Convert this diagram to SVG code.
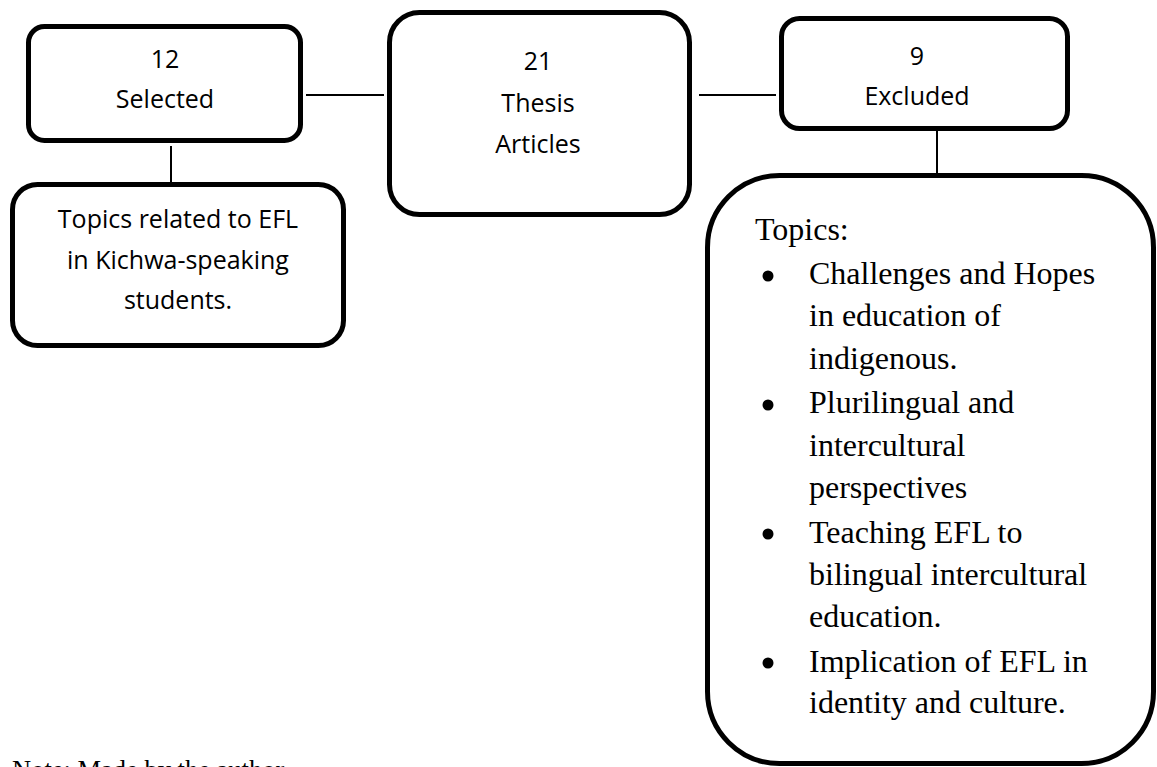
<svg xmlns="http://www.w3.org/2000/svg" width="1157" height="767" viewBox="0 0 1157 767">
<style>
.box{fill:#fff;stroke:#000;stroke-width:5}
.con line{stroke:#000;stroke-width:2}
.sans{font-family:"Open Sans","Liberation Sans",sans-serif;font-size:25px;fill:#000;text-anchor:middle}
.serif{font-family:"Liberation Serif","Times New Roman",serif;font-size:32px;fill:#000}
</style>
<rect width="1157" height="767" fill="#fff"/>
<g id="connectors" class="con">
<line x1="306" y1="95" x2="384" y2="95"/>
<line x1="699" y1="95" x2="776" y2="95"/>
<line x1="171" y1="146" x2="171" y2="184"/>
<line x1="937" y1="131" x2="937" y2="175"/>
</g>
<g id="selected">
<rect class="box" x="28.5" y="26.5" width="272" height="114" rx="16"/>
<text class="sans" x="165" y="68">12</text>
<text class="sans" x="165" y="108">Selected</text>
</g>
<g id="thesis">
<rect class="box" x="389.5" y="12.5" width="300" height="202" rx="30"/>
<text class="sans" x="538" y="70">21</text>
<text class="sans" x="538" y="112">Thesis</text>
<text class="sans" x="538" y="153">Articles</text>
</g>
<g id="excluded">
<rect class="box" x="781.5" y="18.5" width="286" height="110" rx="18"/>
<text class="sans" x="917" y="65">9</text>
<text class="sans" x="917" y="105">Excluded</text>
</g>
<g id="selected-topics">
<rect class="box" x="12.5" y="184.5" width="331" height="161" rx="25"/>
<text class="sans" x="178" y="228">Topics related to EFL</text>
<text class="sans" x="178" y="269">in Kichwa-speaking</text>
<text class="sans" x="178" y="309">students.</text>
</g>
<g id="excluded-topics">
<rect class="box" x="707.5" y="175.5" width="446" height="588" rx="72"/>
<text class="serif" x="755" y="240">Topics:</text>
<g class="serif">
<circle cx="768" cy="276" r="5.5"/>
<circle cx="768" cy="405" r="5.5"/>
<circle cx="768" cy="534" r="5.5"/>
<circle cx="768" cy="663" r="5.5"/>
<text x="809" y="284">Challenges and Hopes</text>
<text x="809" y="326">in education of</text>
<text x="809" y="369">indigenous.</text>
<text x="809" y="413">Plurilingual and</text>
<text x="809" y="456">intercultural</text>
<text x="809" y="498">perspectives</text>
<text x="809" y="543">Teaching EFL to</text>
<text x="809" y="585">bilingual intercultural</text>
<text x="809" y="627">education.</text>
<text x="809" y="672">Implication of EFL in</text>
<text x="809" y="713">identity and culture.</text>
</g>
</g>
<text x="12" y="779" style="font-family:'Liberation Serif','Times New Roman',serif;font-size:26.5px;fill:#000">Note: Made by the author</text>
</svg>
